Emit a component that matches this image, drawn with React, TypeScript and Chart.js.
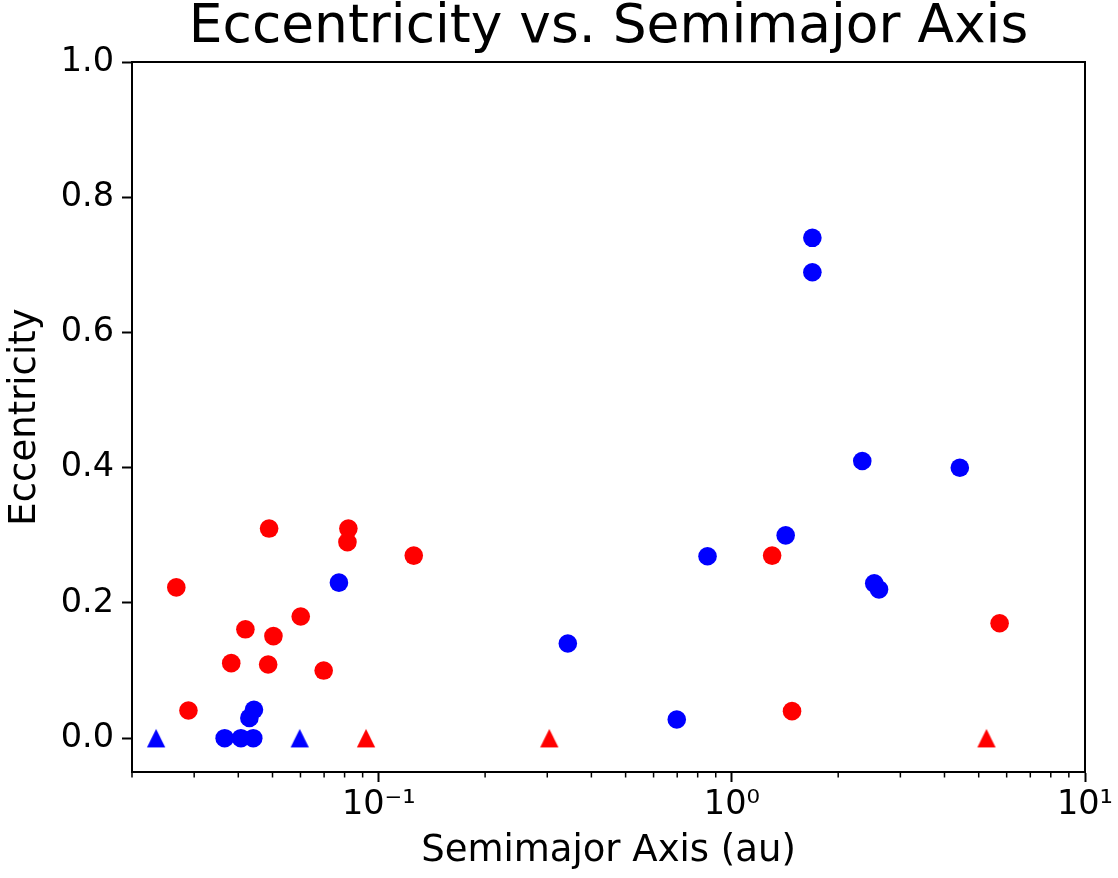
import React, { useEffect, useRef } from 'react';
import { Chart, registerables } from 'chart.js';

Chart.register(...registerables);

// ---- data (semimajor axis in au, eccentricity) ----
const blueCircleA = [0.0366, 0.0407, 0.0441, 0.043, 0.0443, 0.0771, 0.343, 0.698, 0.853, 1.42, 1.69, 1.69, 2.34, 2.53, 2.61, 4.42];
const blueCircleE = [0, 0, 0, 0.03, 0.042, 0.23, 0.14, 0.0276, 0.269, 0.30, 0.74, 0.689, 0.41, 0.229, 0.22, 0.40];

const blueTriangleA = [0.0234, 0.0597];
const blueTriangleE = [0, 0];

const redCircleA = [0.0267, 0.0289, 0.0382, 0.0419, 0.0489, 0.0486, 0.0503, 0.0601, 0.0698, 0.082, 0.0815, 0.1256, 1.30, 1.48, 5.73];
const redCircleE = [0.223, 0.041, 0.111, 0.161, 0.31, 0.109, 0.151, 0.18, 0.10, 0.31, 0.29, 0.27, 0.27, 0.04, 0.17];

const redTriangleA = [0.092, 0.304, 5.26];
const redTriangleE = [0, 0, 0];

const yTickValues = [0, 0.2, 0.4, 0.6, 0.8, 1.0];
const xMajorTicks = [0.1, 1, 10];
const xMajorLabels = ['10\u207B\u00B9', '10\u2070', '10\u00B9'];
const xMinorTicks = [0.02, 0.03, 0.04, 0.05, 0.06, 0.07, 0.08, 0.09, 0.2, 0.3, 0.4, 0.5, 0.6, 0.7, 0.8, 0.9, 2, 3, 4, 5, 6, 7, 8, 9];

const X_MIN = 0.02;
const X_MAX = 10;
const Y_MIN = -0.05;
const Y_MAX = 1.0;

const BLUE = '#0000ff';
const RED = '#ff0000';
const FONT = "'DejaVu Sans', sans-serif";

function toPoints(xs: number[], ys: number[]) {
  return xs.map((x, i) => ({ x, y: ys[i] }));
}

function makeTriangle(color: string): HTMLCanvasElement {
  const c = document.createElement('canvas');
  const s = 20;
  c.width = s;
  c.height = s;
  const g = c.getContext('2d')!;
  g.fillStyle = color;
  g.beginPath();
  g.moveTo(s / 2, 0.8);
  g.lineTo(s - 0.8, s - 0.8);
  g.lineTo(0.8, s - 0.8);
  g.closePath();
  g.fill();
  return c;
}

const framePlugin = {
  id: 'frameAndMinorTicks',
  afterDraw(chart: any) {
    const { ctx, chartArea: a, scales } = chart;
    ctx.save();
    ctx.strokeStyle = '#000';
    ctx.lineWidth = 2;
    ctx.strokeRect(a.left, a.top, a.right - a.left, a.bottom - a.top);
    ctx.lineWidth = 1.5;
    const xs = scales.x;
    for (const v of xMinorTicks) {
      const px = xs.getPixelForValue(v);
      ctx.beginPath();
      ctx.moveTo(px, a.bottom);
      ctx.lineTo(px, a.bottom + 5.5);
      ctx.stroke();
    }
    ctx.restore();
  },
};

export default function App() {
  const ref = useRef<HTMLCanvasElement | null>(null);

  useEffect(() => {
    if (!ref.current) return;
    const blueTri = makeTriangle(BLUE);
    const redTri = makeTriangle(RED);
    const circle = { pointStyle: 'circle', pointRadius: 9.3, pointHoverRadius: 9.3, pointBorderWidth: 0 };
    const chart = new Chart(ref.current, {
      type: 'scatter',
      data: {
        datasets: [
          { label: 'blue circles', data: toPoints(blueCircleA, blueCircleE), backgroundColor: BLUE, borderColor: BLUE, ...circle },
          { label: 'blue triangles', data: toPoints(blueTriangleA, blueTriangleE), backgroundColor: BLUE, borderColor: BLUE, pointStyle: blueTri as any, pointRadius: 10 },
          { label: 'red circles', data: toPoints(redCircleA, redCircleE), backgroundColor: RED, borderColor: RED, ...circle },
          { label: 'red triangles', data: toPoints(redTriangleA, redTriangleE), backgroundColor: RED, borderColor: RED, pointStyle: redTri as any, pointRadius: 10 },
        ] as any,
      },
      options: {
        animation: false,
        responsive: false,
        devicePixelRatio: 1,
        layout: { padding: { top: 0, left: 0, right: 33, bottom: 0 } },
        plugins: {
          legend: { display: false },
          tooltip: { enabled: false },
          title: {
            display: true,
            text: 'Eccentricity vs. Semimajor Axis',
            color: '#000',
            fullSize: false,
            font: { family: FONT, size: 53.4, weight: 'normal', lineHeight: 1.0 },
            padding: { top: 1.5, bottom: 7.1 },
          },
        },
        scales: {
          x: {
            type: 'logarithmic',
            min: X_MIN,
            max: X_MAX,
            afterBuildTicks: (scale: any) => {
              scale.ticks = xMajorTicks.map((v) => ({ value: v }));
            },
            afterFit: (scale: any) => {
              scale.height = 106;
            },
            ticks: {
              color: '#000',
              font: { family: FONT, size: 33.5 },
              padding: 3,
              maxRotation: 0,
              autoSkip: false,
              callback: (value: any) => {
                const i = xMajorTicks.findIndex((v) => Math.abs(v - Number(value)) < 1e-9);
                return i >= 0 ? xMajorLabels[i] : '';
              },
            },
            grid: { drawOnChartArea: false, drawTicks: true, tickLength: 10, tickWidth: 2, tickColor: '#000' },
            border: { display: true, color: '#000', width: 2 },
            title: {
              display: true,
              text: 'Semimajor Axis (au)',
              color: '#000',
              font: { family: FONT, size: 37 },
              padding: { top: 0, bottom: 4.6 },
            },
          },
          y: {
            type: 'linear',
            min: Y_MIN,
            max: Y_MAX,
            afterBuildTicks: (scale: any) => {
              scale.ticks = yTickValues.map((v) => ({ value: v }));
            },
            afterFit: (scale: any) => {
              scale.width = 132;
            },
            ticks: {
              color: '#000',
              font: { family: FONT, size: 33.5 },
              padding: 8,
              callback: (value: any) => Number(value).toFixed(1),
            },
            grid: { drawOnChartArea: false, drawTicks: true, tickLength: 10, tickWidth: 2, tickColor: '#000' },
            border: { display: true, color: '#000', width: 2 },
            title: {
              display: true,
              text: 'Eccentricity',
              color: '#000',
              font: { family: FONT, size: 37 },
              padding: { top: 3.5, bottom: 0 },
            },
          },
        },
      } as any,
      plugins: [framePlugin],
    });
    return () => chart.destroy();
  }, []);

  return (
    <div style={{ position: 'absolute', left: 0, top: 0, width: 1118, height: 878, background: '#fff' }}>
      <canvas ref={ref} width={1118} height={878} style={{ display: 'block' }} />
    </div>
  );
}
